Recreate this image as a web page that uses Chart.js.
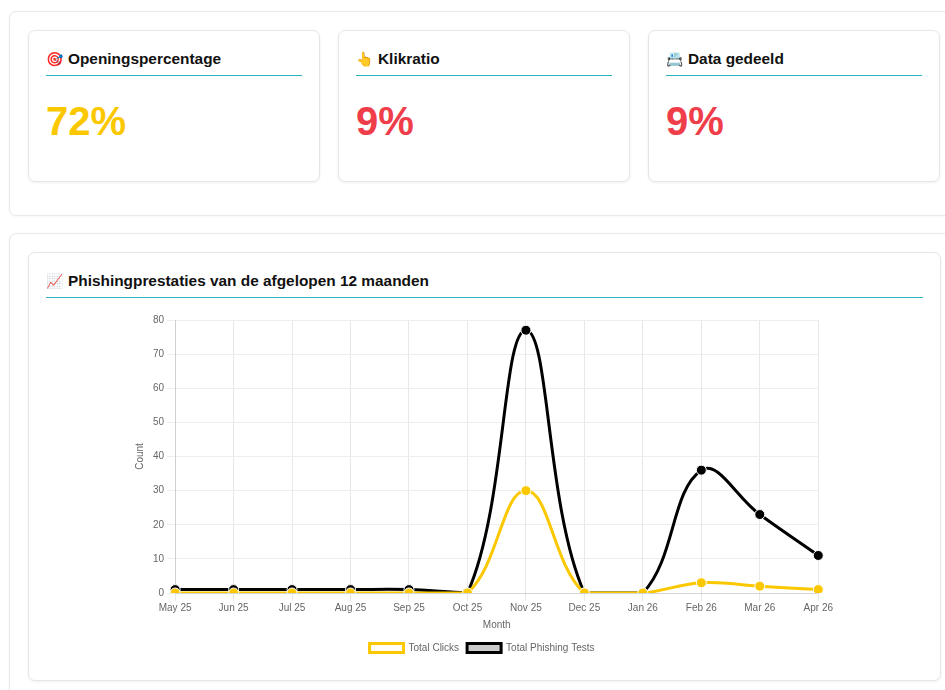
<!DOCTYPE html>
<html lang="nl">
<head>
<meta charset="utf-8">
<title>Phishing dashboard</title>
<script src="https://cdn.jsdelivr.net/npm/chart.js@4.4.1/dist/chart.umd.min.js"></script>
<style>
    html, body { margin: 0; padding: 0; background: #fff; overflow: hidden; }
    body { width: 945px; height: 690px; position: relative; font-family: "Liberation Sans", Arial, Helvetica, sans-serif; color: #111; }
    .panel { position: absolute; left: 9px; width: 950px; border: 1px solid #e9e9e9; border-radius: 7px; background: #fff; box-shadow: 0 1px 3px rgba(0,0,0,0.04); }
    .card { position: absolute; border: 1px solid #e6e6e6; border-radius: 7px; background: #fff; box-shadow: 0 1px 3px rgba(0,0,0,0.06); }
    .card h3 { margin: 0; position: absolute; left: 17px; right: 17px; top: 19px; font-size: 15.4px; font-weight: bold; padding-bottom: 7px; border-bottom: 1px solid #2bb3bd; white-space: nowrap; }
    .card .big { position: absolute; left: 17px; top: 68px; font-size: 40px; font-weight: bold; }
    .yellow { color: #fbc800; }
    .red { color: #ef3e4a; }
    .emo { display: inline-block; width: 18px; font-size: 14px; margin-right: 4px; }
</style>
</head>
<body>

<div class="panel" style="top:11px; height:203px;">
    <div class="card" style="left:18px; top:18px; width:290px; height:150px;">
        <h3><span class="emo">🎯</span>Openingspercentage</h3>
        <div class="big yellow" id="openRate"></div>
    </div>
    <div class="card" style="left:328px; top:18px; width:290px; height:150px;">
        <h3><span class="emo">👆</span>Klikratio</h3>
        <div class="big red" id="clickRate"></div>
    </div>
    <div class="card" style="left:638px; top:18px; width:290px; height:150px;">
        <h3><span class="emo">📇</span>Data gedeeld</h3>
        <div class="big red" id="dataRate"></div>
    </div>
</div>

<div class="panel" style="top:233px; height:480px;">
    <div class="card" style="left:18px; top:18px; width:911px; height:427px;">
        <h3><span class="emo">📈</span>Phishingprestaties van de afgelopen 12 maanden</h3>
        <div style="position:absolute; left:101px; top:58px; width:704px; height:352px;">
            <canvas id="phishingChart"></canvas>
        </div>
    </div>
</div>

<script>
// KPI waarden
const kpiOpen = 72;
const kpiClick = 9;
const kpiData = 9;

// Grafiekdata
const months = ["May 25", "Jun 25", "Jul 25", "Aug 25", "Sep 25", "Oct 25", "Nov 25", "Dec 25", "Jan 26", "Feb 26", "Mar 26", "Apr 26"];
const totalClicks = [0, 0, 0, 0, 0, 0, 30, 0, 0, 3, 2, 1];
const totalTests = [1, 1, 1, 1, 1, 0, 77, 0, 0, 36, 23, 11];
const yTicks = [0, 10, 20, 30, 40, 50, 60, 70, 80];

document.getElementById("openRate").textContent = kpiOpen + "%";
document.getElementById("clickRate").textContent = kpiClick + "%";
document.getElementById("dataRate").textContent = kpiData + "%";

Chart.defaults.font.family = '"Liberation Sans", Arial, Helvetica, sans-serif';
Chart.defaults.font.size = 10;
Chart.defaults.color = "#666";

new Chart(document.getElementById("phishingChart"), {
    type: "line",
    data: {
        labels: months,
        datasets: [{
            label: "Total Clicks",
            data: totalClicks,
            borderColor: "#fbc800",
            backgroundColor: "rgba(251, 200, 0, 0.04)",
            pointBackgroundColor: "#fbc800",
            pointBorderColor: "#fff",
            pointBorderWidth: 1,
            pointRadius: 5,
            borderWidth: 3,
            tension: 0.4
        }, {
            label: "Total Phishing Tests",
            data: totalTests,
            borderColor: "#000",
            backgroundColor: "rgba(0, 0, 0, 0.2)",
            pointBackgroundColor: "#000",
            pointBorderColor: "#fff",
            pointBorderWidth: 1,
            pointRadius: 5,
            borderWidth: 3,
            tension: 0.4
        }]
    },
    options: {
        responsive: true,
        maintainAspectRatio: false,
        animation: false,
        plugins: {
            legend: {
                position: "bottom",
                labels: { boxWidth: 34, boxHeight: 9, padding: 8 }
            }
        },
        scales: {
            x: {
                title: { display: true, text: "Month" },
                grid: { color: "#e8e8e8" },
                ticks: { padding: 1 }
            },
            y: {
                min: 0,
                max: 80,
                title: { display: true, text: "Count" },
                grid: { color: "#eeeeee" },
                afterBuildTicks: axis => { axis.ticks = yTicks.map(v => ({ value: v })); }
            }
        }
    }
});
</script>
</body>
</html>
